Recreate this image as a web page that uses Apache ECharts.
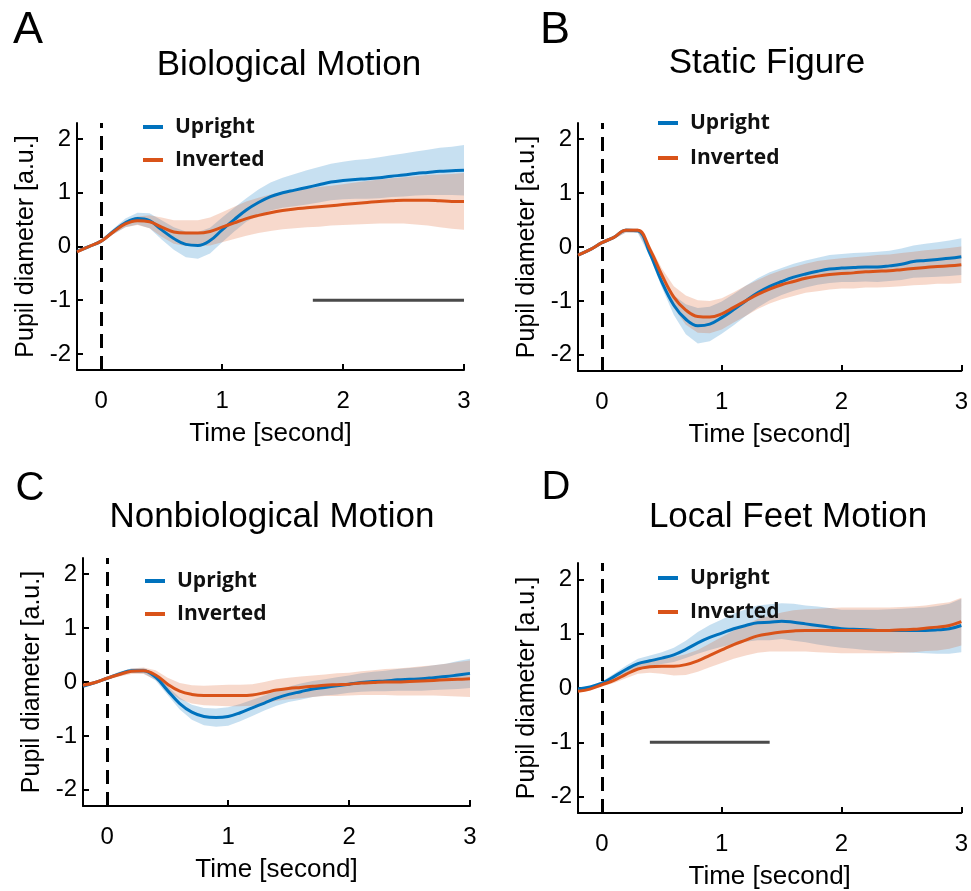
<!DOCTYPE html>
<html>
<head>
<meta charset="utf-8">
<script src="https://cdn.jsdelivr.net/npm/echarts@6/dist/echarts.min.js"></script>
<style>
html, body { margin: 0; background: #fff; }
#chart { width: 971px; height: 891px; }
</style>
</head>
<body>
<div id="chart"></div>
<script>
// time axis, seconds
const time = [-0.2, -0.1, 0, 0.1, 0.2, 0.3, 0.4, 0.5, 0.6, 0.7, 0.8, 0.9, 1.0,
    1.1, 1.2, 1.3, 1.4, 1.5, 1.6, 1.7, 1.8, 1.9, 2.0,
    2.1, 2.2, 2.3, 2.4, 2.5, 2.6, 2.7, 2.8, 2.9, 3.0]

const xTicks = [0, 1, 2, 3]
const yTicks = [-2, -1, 0, 1, 2]

// A - Biological Motion
const bioUp = [-0.09, 0.00, 0.10, 0.28, 0.44, 0.52, 0.48, 0.31, 0.15, 0.04, 0.02, 0.11, 0.31,
    0.50, 0.68, 0.82, 0.93, 1.00, 1.05, 1.10, 1.15, 1.20, 1.23,
    1.25, 1.26, 1.28, 1.31, 1.33, 1.36, 1.38, 1.40, 1.41, 1.42]
const bioUpErr = [0.02, 0.02, 0.03, 0.05, 0.08, 0.11, 0.14, 0.18, 0.21, 0.24, 0.25, 0.24, 0.23,
    0.22, 0.22, 0.24, 0.26, 0.28, 0.30, 0.32, 0.33, 0.34, 0.35,
    0.36, 0.37, 0.38, 0.39, 0.40, 0.41, 0.42, 0.44, 0.45, 0.47]
const bioInv = [-0.10, 0.00, 0.10, 0.27, 0.42, 0.48, 0.46, 0.36, 0.27, 0.25, 0.25, 0.28, 0.36,
    0.44, 0.52, 0.58, 0.63, 0.67, 0.70, 0.72, 0.74, 0.76, 0.78,
    0.80, 0.82, 0.84, 0.85, 0.86, 0.86, 0.86, 0.85, 0.84, 0.84]
const bioInvErr = [0.02, 0.02, 0.03, 0.04, 0.06, 0.08, 0.12, 0.18, 0.22, 0.24, 0.24, 0.26, 0.28,
    0.30, 0.32, 0.33, 0.34, 0.35, 0.36, 0.36, 0.37, 0.37, 0.38,
    0.39, 0.40, 0.41, 0.42, 0.43, 0.45, 0.47, 0.49, 0.51, 0.53]
const bioSig = [1.75, 3.0]

// B - Static Figure
const staUp = [-0.15, -0.05, 0.08, 0.18, 0.31, 0.30, -0.12, -0.65, -1.08, -1.34, -1.46, -1.43, -1.31,
    -1.16, -1.00, -0.85, -0.73, -0.64, -0.56, -0.50, -0.45, -0.41, -0.39,
    -0.38, -0.37, -0.37, -0.35, -0.32, -0.27, -0.25, -0.23, -0.21, -0.18]
const staUpErr = [0.03, 0.03, 0.03, 0.03, 0.04, 0.04, 0.06, 0.10, 0.18, 0.28, 0.33, 0.32, 0.30,
    0.29, 0.28, 0.27, 0.26, 0.25, 0.25, 0.25, 0.25, 0.26, 0.26,
    0.27, 0.27, 0.28, 0.28, 0.29, 0.30, 0.31, 0.32, 0.33, 0.34]
const staInv = [-0.15, -0.05, 0.08, 0.18, 0.31, 0.31, -0.04, -0.52, -0.93, -1.17, -1.29, -1.30, -1.24,
    -1.12, -1.00, -0.88, -0.78, -0.70, -0.64, -0.58, -0.54, -0.51, -0.49,
    -0.48, -0.46, -0.45, -0.44, -0.42, -0.40, -0.38, -0.36, -0.35, -0.33]
const staInvErr = [0.03, 0.03, 0.03, 0.03, 0.04, 0.04, 0.07, 0.12, 0.20, 0.27, 0.30, 0.30, 0.29,
    0.28, 0.28, 0.27, 0.27, 0.27, 0.27, 0.27, 0.28, 0.28, 0.28,
    0.29, 0.29, 0.30, 0.30, 0.31, 0.31, 0.32, 0.32, 0.33, 0.34]

// C - Nonbiological Motion
const nonUp = [-0.08, -0.01, 0.07, 0.15, 0.21, 0.21, 0.09, -0.16, -0.40, -0.56, -0.64, -0.66, -0.64,
    -0.57, -0.48, -0.39, -0.30, -0.23, -0.18, -0.13, -0.10, -0.07, -0.04,
    -0.01, 0.01, 0.02, 0.04, 0.05, 0.06, 0.08, 0.10, 0.13, 0.16]
const nonUpErr = [0.02, 0.02, 0.03, 0.04, 0.04, 0.05, 0.06, 0.08, 0.11, 0.14, 0.16, 0.17, 0.17,
    0.16, 0.15, 0.14, 0.14, 0.14, 0.15, 0.15, 0.15, 0.16, 0.16,
    0.17, 0.18, 0.19, 0.20, 0.21, 0.22, 0.23, 0.24, 0.26, 0.27]
const nonInv = [-0.06, -0.01, 0.07, 0.14, 0.20, 0.21, 0.13, -0.04, -0.17, -0.23, -0.25, -0.25, -0.25,
    -0.25, -0.24, -0.20, -0.15, -0.12, -0.10, -0.08, -0.06, -0.05, -0.04,
    -0.02, -0.01, 0.00, 0.00, 0.01, 0.02, 0.03, 0.04, 0.05, 0.06]
const nonInvErr = [0.03, 0.03, 0.03, 0.04, 0.05, 0.06, 0.09, 0.12, 0.15, 0.17, 0.18, 0.19, 0.20,
    0.20, 0.20, 0.20, 0.20, 0.20, 0.20, 0.20, 0.20, 0.21, 0.21,
    0.22, 0.23, 0.24, 0.25, 0.26, 0.27, 0.28, 0.30, 0.32, 0.34]

// D - Local Feet Motion
const feetUp = [-0.02, 0.02, 0.09, 0.21, 0.34, 0.45, 0.50, 0.55, 0.61, 0.71, 0.83, 0.93, 1.01,
    1.09, 1.15, 1.20, 1.21, 1.23, 1.21, 1.18, 1.15, 1.12, 1.09,
    1.08, 1.07, 1.06, 1.06, 1.06, 1.06, 1.06, 1.07, 1.09, 1.15]
const feetUpErr = [0.02, 0.02, 0.03, 0.05, 0.07, 0.09, 0.10, 0.11, 0.13, 0.16, 0.20, 0.23, 0.25,
    0.28, 0.30, 0.32, 0.33, 0.33, 0.34, 0.34, 0.35, 0.35, 0.35,
    0.36, 0.37, 0.38, 0.39, 0.40, 0.41, 0.42, 0.44, 0.46, 0.49]
const feetInv = [-0.06, -0.02, 0.06, 0.14, 0.25, 0.35, 0.39, 0.40, 0.40, 0.43, 0.50, 0.60, 0.70,
    0.80, 0.88, 0.96, 1.00, 1.03, 1.05, 1.06, 1.06, 1.06, 1.06,
    1.06, 1.06, 1.06, 1.06, 1.07, 1.08, 1.10, 1.12, 1.15, 1.22]
const feetInvErr = [0.02, 0.02, 0.03, 0.05, 0.07, 0.09, 0.11, 0.14, 0.17, 0.19, 0.20, 0.22, 0.24,
    0.26, 0.28, 0.31, 0.33, 0.36, 0.38, 0.39, 0.40, 0.41, 0.42,
    0.42, 0.42, 0.42, 0.42, 0.42, 0.42, 0.42, 0.43, 0.43, 0.44]
const feetSig = [0.4, 1.4]

const sigLevel = -1
const BLUE = '#0072BD'
const ORANGE = '#D95319'
const FONT = 'Liberation Sans, Arial, sans-serif'

// layout of the four panels (pixels)
const panels = [
    {letter: 'A', title: 'Biological Motion', up: bioUp, upErr: bioUpErr, inv: bioInv, invErr: bioInvErr, sig: bioSig,
        grid: {left: 77, top: 123, width: 387, height: 247}, titleAt: [289, 65],
        letterAt: [28, 31], letterSize: 45, legendAt: [138, 111], legendGap: 11},
    {letter: 'B', title: 'Static Figure', up: staUp, upErr: staUpErr, inv: staInv, invErr: staInvErr, sig: null,
        grid: {left: 578, top: 123, width: 386, height: 248}, titleAt: [767, 63],
        letterAt: [555, 31], letterSize: 45, legendAt: [653, 107], legendGap: 13},
    {letter: 'C', title: 'Nonbiological Motion', up: nonUp, upErr: nonUpErr, inv: nonInv, invErr: nonInvErr, sig: null,
        grid: {left: 83, top: 558, width: 387, height: 248}, titleAt: [272, 517],
        letterAt: [30, 489], letterSize: 40, legendAt: [140, 565], legendGap: 11},
    {letter: 'D', title: 'Local Feet Motion', up: feetUp, upErr: feetUpErr, inv: feetInv, invErr: feetInvErr, sig: feetSig,
        grid: {left: 578, top: 563, width: 386, height: 250}, titleAt: [788, 517],
        letterAt: [556, 488], letterSize: 40, legendAt: [653, 562], legendGap: 12},
]

function pairs(ys) {
    return time.map((t, i) => [t, ys[i]])
}

// shaded error band: one polygon (mean +- err) drawn through the grid's scales
function bandSeries(idx, mean, err, color) {
    const data = time.map((t, i) => [t, mean[i] - err[i], mean[i] + err[i]])
    return {
        type: 'custom', xAxisIndex: idx, yAxisIndex: idx, silent: true, z: 1,
        data: data,
        renderItem: function (params, api) {
            if (params.dataIndex !== 0) return null
            const upper = data.map(d => api.coord([d[0], d[2]]))
            const lower = data.map(d => api.coord([d[0], d[1]])).reverse()
            return {
                type: 'polygon',
                shape: {points: upper.concat(lower)},
                style: {fill: color},
            }
        },
    }
}

const grids = [], xAxes = [], yAxes = [], legends = [], series = [], graphics = []

panels.forEach((p, i) => {
    grids.push(p.grid)
    xAxes.push({
        gridIndex: i, type: 'value', min: -0.2, max: 3,
        axisLine: {onZero: false, lineStyle: {color: '#000', width: 2}},
        axisTick: {inside: true, length: 6, customValues: xTicks, lineStyle: {color: '#000', width: 2}},
        axisLabel: {customValues: xTicks, fontSize: 24, color: '#000', margin: 19, fontFamily: FONT},
        splitLine: {show: false},
        name: 'Time [second]', nameLocation: 'middle', nameGap: 51,
        nameTextStyle: {fontSize: 26, color: '#000', fontFamily: FONT},
    })
    yAxes.push({
        gridIndex: i, type: 'value', min: -2.3, max: 2.3,
        axisLine: {show: true, onZero: false, lineStyle: {color: '#000', width: 2}},
        axisTick: {show: true, inside: true, length: 6, customValues: yTicks, lineStyle: {color: '#000', width: 2}},
        axisLabel: {customValues: yTicks, fontSize: 24, color: '#000', margin: 6, fontFamily: FONT},
        splitLine: {show: false},
        name: 'Pupil diameter [a.u.]', nameLocation: 'middle', nameGap: 38, nameRotate: 90,
        nameTextStyle: {fontSize: 25, color: '#000', fontFamily: FONT},
    })
    legends.push({
        orient: 'vertical', left: p.legendAt[0], top: p.legendAt[1],
        data: ['Upright', 'Inverted'], icon: 'rect', itemWidth: 20, itemHeight: 4,
        itemGap: p.legendGap, selectedMode: false,
        textStyle: {fontSize: 21, fontWeight: 'bold', color: '#111', fontFamily: 'Open Sans, sans-serif',
            lineHeight: 22, padding: [0, 0, 0, 7]},
    })

    series.push(bandSeries(i, p.up, p.upErr, 'rgba(0,114,189,0.22)'))
    series.push(bandSeries(i, p.inv, p.invErr, 'rgba(217,83,25,0.22)'))

    series.push({
        name: 'Upright', type: 'line', xAxisIndex: i, yAxisIndex: i, data: pairs(p.up),
        smooth: 0.4, showSymbol: false, color: BLUE, lineStyle: {width: 3}, z: 3,
        markLine: {
            silent: true, symbol: ['none', 'none'], label: {show: false},
            lineStyle: {color: '#000', type: [14, 8], width: 3},
            data: [{xAxis: 0}],
        },
    })
    series.push({
        name: 'Inverted', type: 'line', xAxisIndex: i, yAxisIndex: i, data: pairs(p.inv),
        smooth: 0.4, showSymbol: false, color: ORANGE, lineStyle: {width: 3}, z: 4,
    })
    if (p.sig) {
        series.push({
            name: 'sig' + i, type: 'line', xAxisIndex: i, yAxisIndex: i,
            data: [[p.sig[0], sigLevel], [p.sig[1], sigLevel]],
            showSymbol: false, silent: true, color: '#4a4a4a', lineStyle: {width: 3}, z: 2,
        })
    }

    graphics.push({
        type: 'text', x: p.titleAt[0], y: p.titleAt[1],
        style: {text: p.title, fontSize: 35, fill: '#000', fontFamily: FONT,
            textAlign: 'center', textVerticalAlign: 'middle'},
    })
    graphics.push({
        type: 'text', x: p.letterAt[0], y: p.letterAt[1],
        style: {text: p.letter, fontSize: p.letterSize, fill: '#000', fontFamily: FONT,
            textAlign: 'center', textVerticalAlign: 'middle'},
    })
})

const chart = echarts.init(document.getElementById('chart'))
chart.setOption({
    animation: false,
    backgroundColor: '#fff',
    grid: grids,
    xAxis: xAxes,
    yAxis: yAxes,
    legend: legends,
    series: series,
    graphic: graphics,
})
</script>
</body>
</html>
